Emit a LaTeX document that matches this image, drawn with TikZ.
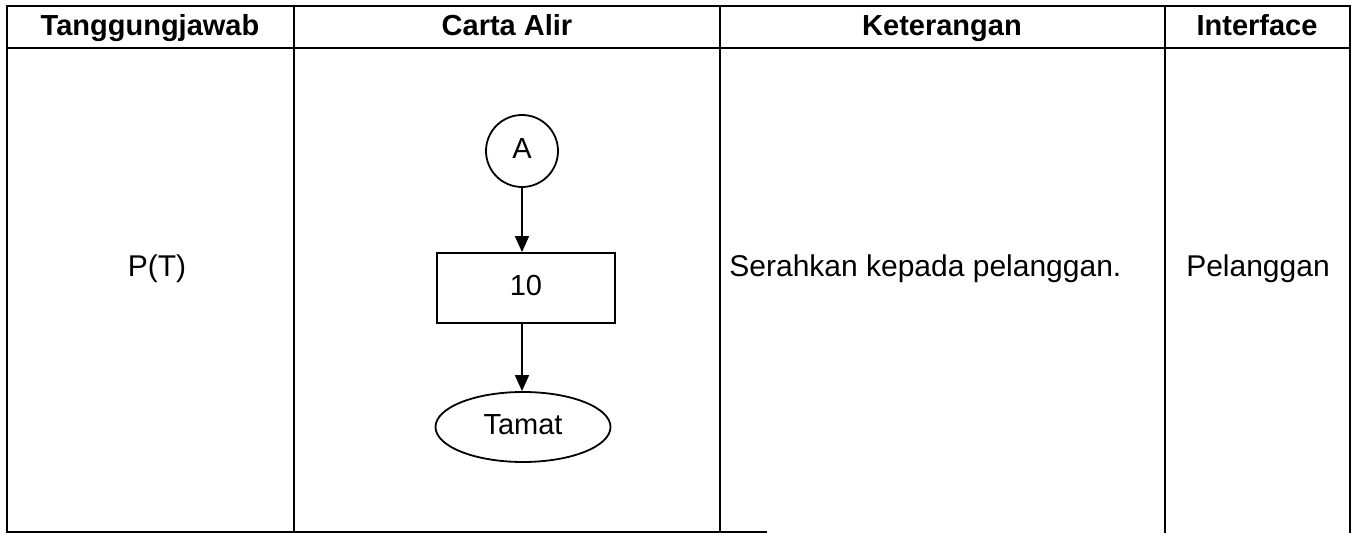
\documentclass[tikz,border=0pt]{standalone}
\usepackage{fontspec}
\setmainfont{Liberation Sans}
\usetikzlibrary{arrows.meta,shapes.geometric}
\begin{document}
\begin{tikzpicture}[x=0.5pt,y=-0.5pt,
  grid/.style={line width=1.1pt},
  head/.style={font=\fontsize{14.5}{17}\selectfont\bfseries, anchor=base, inner sep=0pt},
  body/.style={font=\fontsize{15}{18}\selectfont, anchor=base, inner sep=0pt},
  flowtext/.style={font=\fontsize{14.5}{17}\selectfont, text height=1.4ex, text depth=0pt},
  shapeline/.style={draw, line width=0.9pt},
  flow/.style={line width=0.9pt, -{Triangle[width=7pt,length=8pt]}}]
\useasboundingbox (0,0) rectangle (1357,533);
% table frame
\draw[grid] (7,533) -- (7,6) -- (1350,6) -- (1350,533);
\draw[grid] (7,48) -- (1350,48);
\draw[grid] (294,6) -- (294,533);
\draw[grid] (720,6) -- (720,533);
\draw[grid] (1165,6) -- (1165,533);
\draw[grid] (7,532) -- (767,532);
% headers
\node[head] (h1) at (150,36) {Tanggungjawab};
\node[head] (h2) at (507,36) {Carta Alir};
\node[head] (h3) at (942,36) {Keterangan};
\node[head] (h4) at (1257,36) {Interface};
% body
\node[body] (pt) at (157,277) {P(T)};
\node[body, anchor=base west] (ket) at (729,277) {Serahkan kepada pelanggan.};
\node[body] (pel) at (1258,277) {Pelanggan};
% flowchart
\node[shapeline, circle, minimum size=36pt, inner sep=0pt, flowtext] (A) at (522,151) {A};
\node[shapeline, rectangle, minimum width=89pt, minimum height=35pt, flowtext] (s10) at (526,288) {10};
\node[shapeline, ellipse, minimum width=87.5pt, minimum height=35pt, inner sep=0pt, flowtext] (end) at (523,427) {Tamat};
\draw[flow] (A) -- (A |- s10.north);
\draw[flow] (A |- s10.south) -- (A |- end.north);
\end{tikzpicture}
\end{document}
